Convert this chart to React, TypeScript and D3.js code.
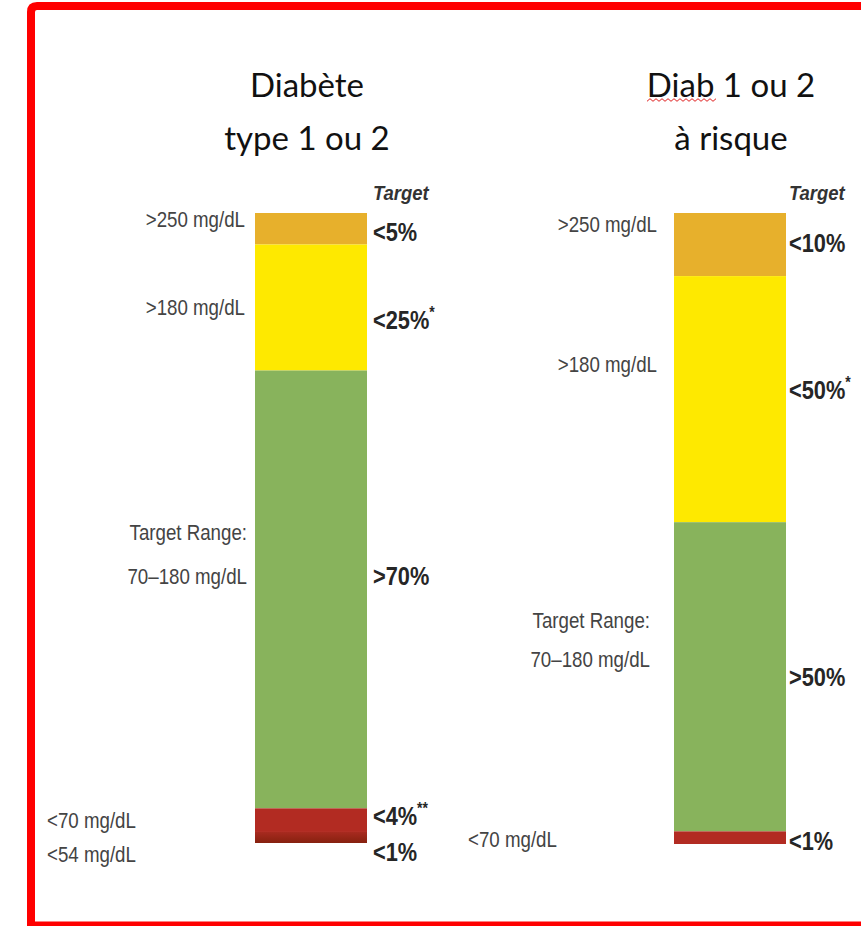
import React, { useEffect, useRef } from "react";
import * as d3 from "d3";

const WIDTH = 861;
const HEIGHT = 926;

// glucose ranges, top to bottom
const bandColors = ["#e7b02c", "#fee900", "#88b35c", "#b22b22", "#8a2316"];

// % of time in each range
const diabValues = [5, 20, 69.5, 3.75, 1.75];
const riskValues = [10, 39, 49, 2];

const diabTitle = ["Diabète", "type 1 ou 2"];
const riskTitle = ["Diab 1 ou 2", "à risque"];

const diabRangeLabels = [">250 mg/dL", ">180 mg/dL", "Target Range:", "70–180 mg/dL", "<70 mg/dL", "<54 mg/dL"];
const riskRangeLabels = [">250 mg/dL", ">180 mg/dL", "Target Range:", "70–180 mg/dL", "<70 mg/dL"];

const diabTargets = ["<5%", "<25%", ">70%", "<4%", "<1%"];
const diabMarks = ["", "*", "", "**", ""];
const riskTargets = ["<10%", "<50%", ">50%", "<1%"];
const riskMarks = ["", "*", "", ""];

// no narrow font installed -> squeeze Liberation Sans horizontally
const sans = "'Liberation Sans', Arial, sans-serif";
const squeeze = 0.87;

const panels = [
  {
    values: diabValues,
    title: diabTitle,
    rangeLabels: diabRangeLabels,
    targets: diabTargets,
    marks: diabMarks,
    titleX: 307,
    barX: 255,
    barW: 112,
    top: 213,
    bottom: 843,
    // label anchors
    rangePos: [
      { x: 245, y: 227, a: "end" },
      { x: 245, y: 315, a: "end" },
      { x: 247, y: 540, a: "end" },
      { x: 247, y: 584, a: "end" },
      { x: 47, y: 828, a: "start" },
      { x: 47, y: 862, a: "start" },
    ],
    targetX: 373,
    targetY: [241, 329, 585, 825, 861],
    squiggle: false,
  },
  {
    values: riskValues,
    title: riskTitle,
    rangeLabels: riskRangeLabels,
    targets: riskTargets,
    marks: riskMarks,
    titleX: 731,
    barX: 674,
    barW: 112,
    top: 213,
    bottom: 844,
    rangePos: [
      { x: 657, y: 232, a: "end" },
      { x: 657, y: 372, a: "end" },
      { x: 650, y: 628, a: "end" },
      { x: 650, y: 667, a: "end" },
      { x: 468, y: 847, a: "start" },
    ],
    targetX: 789,
    targetY: [252, 399, 686, 850],
    squiggle: true,
  },
];

const App = () => {
  const svgRef = useRef(null);

  useEffect(() => {
    const svg = d3.select(svgRef.current);
    svg.selectAll("*").remove();

    svg.append("rect").attr("width", WIDTH).attr("height", HEIGHT).attr("fill", "#fff");

    const defs = svg.append("defs");
    const grad = defs.append("linearGradient").attr("id", "lowGrad").attr("x1", 0).attr("x2", 0).attr("y1", 0).attr("y2", 1);
    grad.append("stop").attr("offset", "0%").attr("stop-color", "#a82a1f");
    grad.append("stop").attr("offset", "100%").attr("stop-color", "#86210f");

    // red frame
    svg.append("path")
      .attr("d", `M31,${HEIGHT + 10} L31,12 Q31,6 37,6 L${WIDTH + 10},6`)
      .attr("fill", "none")
      .attr("stroke", "#ff0000")
      .attr("stroke-width", 8);
    svg.append("line")
      .attr("x1", 27).attr("x2", WIDTH)
      .attr("y1", 924).attr("y2", 924)
      .attr("stroke", "#ff0000")
      .attr("stroke-width", 5);

    panels.forEach((p) => {
      const g = svg.append("g");

      // title
      g.selectAll("text.title")
        .data(p.title)
        .enter()
        .append("text")
        .attr("class", "title")
        .attr("x", p.titleX)
        .attr("y", (d, i) => 97 + i * 53)
        .attr("text-anchor", "middle")
        .attr("font-family", "Lato, 'Open Sans', sans-serif")
        .attr("font-size", 33)
        .attr("fill", "#111")
        .text((d) => d);

      if (p.squiggle) {
        const pts = d3.range(647, 718, 3).map((x, i) => [x, 100 + (i % 2 ? -1.3 : 1.3)]);
        g.append("path")
          .attr("d", d3.line()(pts as [number, number][]))
          .attr("fill", "none")
          .attr("stroke", "#e02020")
          .attr("stroke-width", 1);
      }

      // stacked bar
      const y = d3.scaleLinear().domain([0, d3.sum(p.values)]).range([p.top, p.bottom]);
      const ends = d3.cumsum(p.values);
      const segs = p.values.map((v, i) => ({ y0: ends[i] - v, y1: ends[i], i }));

      g.selectAll("rect.seg")
        .data(segs)
        .enter()
        .append("rect")
        .attr("class", "seg")
        .attr("x", p.barX)
        .attr("width", p.barW)
        .attr("y", (d) => y(d.y0))
        .attr("height", (d) => y(d.y1) - y(d.y0))
        .attr("fill", (d) => (d.i === 4 ? "url(#lowGrad)" : bandColors[d.i]));

      // range labels on the left
      g.selectAll("text.range")
        .data(p.rangeLabels)
        .enter()
        .append("text")
        .attr("class", "range")
        .attr("transform", (d, i) => `translate(${p.rangePos[i].x},${p.rangePos[i].y}) scale(${squeeze},1)`)
        .attr("text-anchor", (d, i) => p.rangePos[i].a)
        .attr("font-family", sans)
        .attr("font-size", 21.5)
        .attr("fill", "#444")
        .text((d) => d);

      // targets on the right
      g.append("text")
        .attr("transform", `translate(${p.targetX},200) scale(0.88,1)`)
        .attr("font-family", sans)
        .attr("font-size", 21)
        .attr("font-weight", "bold")
        .attr("font-style", "italic")
        .attr("fill", "#333")
        .text("Target");

      const t = g.selectAll("text.target")
        .data(p.targets)
        .enter()
        .append("text")
        .attr("class", "target")
        .attr("transform", (d, i) => `translate(${p.targetX},${p.targetY[i]}) scale(0.87,1)`)
        .attr("font-family", sans)
        .attr("font-size", 25)
        .attr("font-weight", "bold")
        .attr("fill", "#262626");
      t.append("tspan").text((d) => d);
      t.append("tspan")
        .attr("dy", -11)
        .attr("font-size", 16)
        .text((d, i) => p.marks[i]);
    });
  }, []);

  return (
    <div style={{ position: "absolute", left: 0, top: 0 }}>
      <svg ref={svgRef} width={WIDTH} height={HEIGHT} style={{ display: "block" }}></svg>
    </div>
  );
};

export default App;
